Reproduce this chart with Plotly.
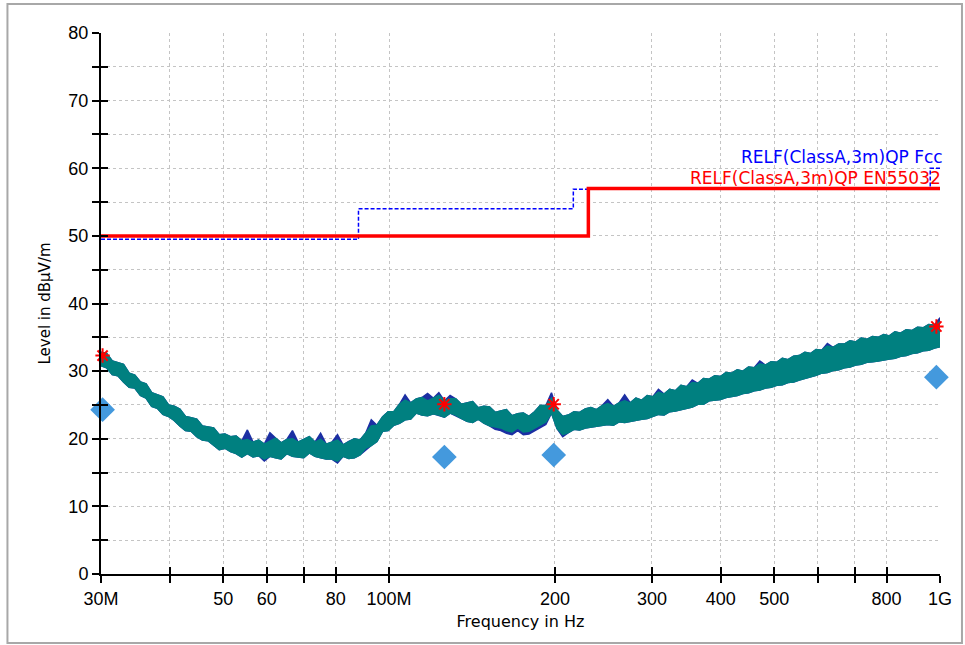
import numpy as np
import plotly.graph_objects as go

# Radiated emission scan, 30 MHz .. 1 GHz (levels in dBuV/m), envelope of each sweep step
teal_upper = [32.8, 32.6, 31.5, 31.3, 31.0, 29.7, 29.4, 28.4, 28.1, 26.8,
              26.5, 26.2, 25.0, 24.8, 24.4, 23.3, 23.1, 22.9, 21.9, 21.8,
              21.6, 20.6, 20.7, 20.3, 20.4, 19.7, 19.9, 19.5, 19.8, 19.2,
              19.6, 20.1, 19.4, 19.9, 20.0, 19.5, 19.9, 20.3, 19.5, 19.9,
              19.2, 19.5, 19.8, 19.1, 19.6, 20.0, 19.8, 20.8, 21.9, 22.0,
              23.2, 24.0, 24.0, 25.1, 25.7, 25.3, 25.9, 26.1, 25.6, 26.0,
              26.4, 25.6, 25.9, 25.9, 25.1, 25.3, 25.5, 24.6, 24.8, 24.7,
              23.9, 24.1, 24.3, 23.4, 23.7, 23.8, 23.3, 24.0, 24.9, 24.9,
              26.0, 24.2, 23.3, 23.5, 24.0, 23.9, 24.4, 24.6, 24.3, 24.9,
              25.2, 24.8, 25.3, 25.6, 25.3, 26.0, 25.7, 26.4, 26.2, 26.9,
              26.6, 27.3, 27.1, 27.9, 27.7, 28.3, 28.2, 28.9, 28.8, 29.3,
              29.2, 29.8, 29.7, 30.2, 30.0, 30.6, 30.5, 31.1, 30.9, 31.4,
              31.3, 31.9, 31.7, 32.2, 32.3, 32.8, 32.6, 33.2, 33.1, 33.7,
              33.5, 34.0, 34.0, 34.5, 34.3, 34.9, 34.7, 35.1, 35.0, 35.4,
              35.2, 35.8, 35.6, 36.1, 36.0, 36.5, 36.4, 36.9, 36.8, 37.3]
teal_lower = [30.8, 30.5, 29.5, 29.3, 28.4, 27.6, 27.5, 26.4, 26.0, 24.8,
              24.5, 23.6, 23.3, 22.7, 21.9, 21.2, 21.1, 20.3, 19.8, 19.7,
              19.0, 18.4, 18.6, 18.1, 17.8, 17.3, 17.8, 17.3, 17.5, 17.0,
              17.4, 17.2, 17.0, 17.8, 17.4, 17.3, 17.2, 17.9, 17.4, 17.2,
              17.0, 17.0, 16.7, 17.4, 17.1, 17.2, 17.6, 18.6, 19.0, 19.6,
              21.1, 21.2, 22.0, 22.3, 22.8, 22.9, 23.8, 23.5, 23.4, 23.7,
              23.5, 23.2, 23.8, 23.5, 23.0, 22.6, 22.4, 22.9, 22.3, 21.9,
              21.8, 21.6, 21.2, 21.0, 21.6, 21.0, 21.1, 21.5, 22.0, 22.5,
              23.8, 21.5, 20.6, 20.9, 21.4, 21.3, 21.6, 21.7, 21.8, 22.0,
              22.1, 22.0, 22.5, 22.4, 22.6, 22.7, 22.9, 23.0, 23.3, 23.6,
              23.5, 24.0, 24.1, 24.2, 24.5, 24.7, 25.1, 25.1, 25.6, 25.7,
              25.8, 26.1, 26.3, 26.4, 26.7, 26.8, 27.1, 27.2, 27.5, 27.6,
              27.9, 28.0, 28.3, 28.4, 28.7, 28.9, 29.2, 29.4, 29.7, 29.8,
              30.1, 30.2, 30.5, 30.6, 30.9, 31.0, 31.3, 31.4, 31.5, 31.6,
              31.8, 31.9, 32.2, 32.3, 32.6, 32.7, 33.0, 33.1, 33.4, 33.6]

# Second sweep: mostly coincident with the first, with its own spikes and dips
blue_upper = [32.8, 32.6, 31.5, 31.3, 31.0, 29.7, 29.4, 28.4, 28.1, 26.8,
              26.5, 26.2, 25.0, 24.8, 24.4, 23.3, 23.1, 22.9, 21.9, 21.8,
              21.6, 20.6, 20.7, 20.3, 20.4, 19.7, 21.3, 19.5, 19.8, 19.2,
              20.9, 20.1, 19.4, 19.9, 21.2, 19.5, 19.9, 20.3, 19.5, 20.8,
              19.2, 19.5, 20.6, 19.1, 19.6, 20.0, 19.8, 20.8, 22.8, 22.0,
              23.2, 24.0, 24.0, 25.1, 26.5, 25.3, 25.9, 26.1, 26.7, 26.0,
              26.8, 25.6, 26.4, 25.9, 25.1, 25.3, 25.5, 24.6, 24.8, 24.7,
              23.9, 24.1, 24.3, 23.4, 23.7, 23.8, 23.3, 24.0, 24.9, 24.9,
              26.8, 24.2, 23.3, 23.5, 24.0, 23.9, 24.4, 24.6, 24.3, 24.9,
              25.8, 24.8, 25.3, 26.5, 25.3, 26.0, 25.7, 26.4, 26.2, 27.3,
              26.6, 27.3, 27.1, 27.9, 27.7, 28.7, 28.2, 28.9, 28.8, 29.3,
              29.2, 29.8, 29.7, 30.2, 30.0, 30.6, 30.5, 31.5, 30.9, 31.4,
              31.3, 31.9, 31.7, 32.2, 32.3, 32.8, 32.6, 33.2, 33.1, 34.1,
              33.5, 34.0, 34.0, 34.5, 34.3, 34.9, 34.7, 35.1, 35.0, 35.4,
              35.2, 35.8, 35.6, 36.1, 36.0, 36.5, 36.4, 36.9, 36.8, 37.9]
blue_lower = [30.8, 30.5, 29.5, 29.3, 28.4, 27.6, 27.5, 26.4, 26.0, 24.8,
              24.5, 23.6, 23.3, 22.7, 21.9, 21.2, 21.1, 20.3, 19.8, 19.7,
              19.0, 18.4, 18.6, 18.1, 17.8, 17.3, 17.8, 17.3, 17.5, 16.7,
              17.4, 17.2, 17.0, 17.8, 17.4, 17.3, 17.2, 17.9, 17.4, 17.2,
              17.0, 17.0, 16.4, 17.4, 17.1, 17.2, 17.6, 18.3, 19.0, 19.6,
              21.1, 21.2, 22.0, 22.3, 22.8, 22.9, 23.8, 23.5, 23.4, 23.7,
              23.5, 23.2, 23.8, 23.5, 23.0, 22.6, 22.4, 22.9, 22.3, 21.9,
              21.4, 21.2, 20.8, 20.6, 21.2, 20.6, 20.7, 21.1, 21.6, 22.1,
              23.8, 21.5, 20.3, 20.9, 21.4, 21.3, 21.6, 21.7, 21.8, 22.0,
              22.1, 22.0, 22.5, 22.4, 22.6, 22.7, 22.9, 23.0, 23.3, 23.6,
              23.5, 24.0, 24.1, 24.2, 24.5, 24.7, 25.1, 25.1, 25.6, 25.7,
              25.8, 26.1, 26.3, 26.4, 26.7, 26.8, 27.1, 27.2, 27.5, 27.6,
              27.9, 28.0, 28.3, 28.4, 28.7, 28.9, 29.2, 29.4, 29.7, 29.8,
              30.1, 30.2, 30.5, 30.6, 30.9, 31.0, 31.3, 31.4, 31.5, 31.6,
              31.8, 31.9, 32.2, 32.3, 32.6, 32.7, 33.0, 33.1, 33.4, 33.6]

assert len(teal_upper) == len(teal_lower) == len(blue_upper) == len(blue_lower)

# Sweep grid: log-spaced frequency steps from 30 MHz to 1 GHz
sweep_hz = np.geomspace(30e6, 1e9, len(teal_upper))

# Limit lines (step functions)
en55032_hz = [30e6, 230e6, 1e9]
en55032_db = [50, 57, 57]
fcc_hz = [30e6, 88e6, 216e6, 960e6, 1e9]
fcc_db = [49.5, 54, 56.9, 60, 60]

# Peak (max) and quasi-peak final measurements
peak_hz = [30.2e6, 126e6, 199e6, 985e6]
peak_db = [32.3, 25.1, 25.1, 36.6]
qp_hz = [30.2e6, 126e6, 199e6, 985e6]
qp_db = [24.3, 17.3, 17.6, 29.1]

# Axis ticks
x_tickvals = [30e6, 40e6, 50e6, 60e6, 70e6, 80e6, 100e6, 200e6, 300e6,
              400e6, 500e6, 600e6, 700e6, 800e6, 1e9]
x_ticktext = ["30M", "", "50", "60", "", "80", "100M", "200", "300",
              "400", "500", "", "", "800", "1G"]
y_tickvals = list(range(0, 81, 5))
y_ticktext = [str(v) if v % 10 == 0 else "" for v in y_tickvals]


def envelope(freqs, upper, lower):
    """Closed outline: upper edge left-to-right, lower edge back."""
    f = list(freqs)
    return f + f[::-1], list(upper) + list(lower)[::-1]


fig = go.Figure()

bx, by = envelope(sweep_hz, blue_upper, blue_lower)
fig.add_trace(go.Scatter(x=bx, y=by, mode="lines", fill="toself",
                         fillcolor="#1c2fa3", line=dict(color="#1c2fa3", width=1.5),
                         hoverinfo="skip"))
tx, ty = envelope(sweep_hz, teal_upper, teal_lower)
fig.add_trace(go.Scatter(x=tx, y=ty, mode="lines", fill="toself",
                         fillcolor="#008080", line=dict(color="#008080", width=1.5),
                         hoverinfo="skip"))

fig.add_trace(go.Scatter(x=fcc_hz, y=fcc_db, mode="lines", line_shape="hv",
                         line=dict(color="#0000ff", width=1.5, dash="4px,2px")))
fig.add_trace(go.Scatter(x=en55032_hz, y=en55032_db, mode="lines", line_shape="hv",
                         line=dict(color="#ff0000", width=3.5)))

fig.add_trace(go.Scatter(x=qp_hz, y=qp_db, mode="markers",
                         marker=dict(symbol="diamond", size=19, color="#4499dd",
                                     line=dict(width=0)), cliponaxis=False))
fig.add_trace(go.Scatter(x=peak_hz, y=peak_db, mode="markers",
                         marker=dict(symbol="asterisk-open", size=12, color="#ff0000",
                                     line=dict(color="#ff0000", width=2)),
                         cliponaxis=False))

# Overlay axes carry the inner half of the tick marks
fig.add_trace(go.Scatter(x=[], y=[], xaxis="x2", yaxis="y2", hoverinfo="skip"))

tick_font = dict(family="Liberation Sans Narrow, Liberation Sans, Arial", size=18, color="#000000")
x_range = [np.log10(30e6), np.log10(1e9)]

fig.update_layout(
    width=965, height=645,
    margin=dict(l=101, r=25, t=33, b=71),
    paper_bgcolor="white", plot_bgcolor="white",
    showlegend=False,
    xaxis=dict(type="log", range=x_range, tickmode="array",
               tickvals=x_tickvals, ticktext=x_ticktext,
               ticks="outside", ticklen=7, tickwidth=2, tickcolor="black",
               showline=True, linecolor="black", linewidth=2,
               showgrid=True, gridcolor="#c4c4c4", griddash="dot", gridwidth=1,
               zeroline=False, tickfont=tick_font, tickangle=0,
               title=dict(text="Frequency in Hz", standoff=8,
                          font=dict(family="DejaVu Sans", size=16, color="black"))),
    yaxis=dict(range=[0, 80], tickmode="array",
               tickvals=y_tickvals, ticktext=y_ticktext,
               ticks="outside", ticklen=7, tickwidth=2, tickcolor="black",
               showline=True, linecolor="black", linewidth=2,
               showgrid=True, gridcolor="#c4c4c4", griddash="dot", gridwidth=1,
               zeroline=False, tickfont=tick_font,
               title=dict(text="Level in dBµV/m", standoff=14,
                          font=dict(family="DejaVu Sans", size=15, color="black"))),
    xaxis2=dict(type="log", range=x_range, overlaying="x", anchor="y",
                tickmode="array", tickvals=x_tickvals, showticklabels=False,
                ticks="inside", ticklen=7, tickwidth=2, tickcolor="black",
                showgrid=False, showline=False, zeroline=False),
    yaxis2=dict(range=[0, 80], overlaying="y", anchor="x",
                tickmode="array", tickvals=y_tickvals, showticklabels=False,
                ticks="inside", ticklen=7, tickwidth=2, tickcolor="black",
                showgrid=False, showline=False, zeroline=False),
    shapes=[dict(type="rect", xref="paper", yref="paper",
                 x0=-0.1115, x1=1.0262, y0=-0.1275, y1=1.0535,
                 line=dict(color="#a8a8a8", width=2), fillcolor="rgba(0,0,0,0)",
                 layer="below")],
    annotations=[
        dict(text="RELF(ClassA,3m)QP Fcc", xref="paper", yref="y",
             x=1.006, y=61.7, xanchor="right", yanchor="middle", showarrow=False,
             font=dict(family="DejaVu Sans", size=17, color="#0000ff")),
        dict(text="RELF(ClassA,3m)QP EN55032", xref="paper", yref="y",
             x=1.003, y=58.6, xanchor="right", yanchor="middle", showarrow=False,
             font=dict(family="DejaVu Sans", size=17, color="#ff0000")),
    ],
)

fig.write_html("out.html")
